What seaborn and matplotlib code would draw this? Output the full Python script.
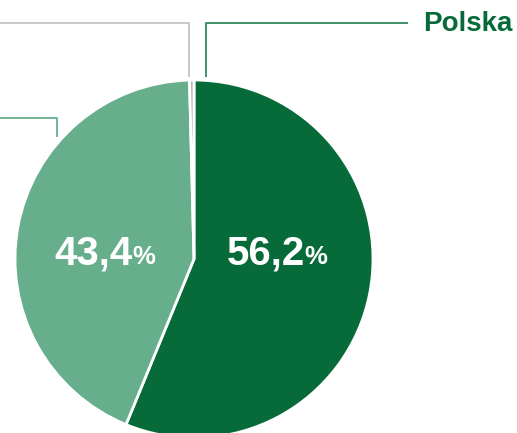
import matplotlib
matplotlib.use("Agg")
import matplotlib.pyplot as plt
import seaborn as sns

# data
categories = ["Polska", "Pozostałe", "Inne"]
shares = [56.2, 43.4, 0.4]
labels = ["56,2", "43,4", ""]
colors = ["#066b38", "#67ae8d", "#b4b4b4"]

sns.set_theme(style="white")
plt.rcParams["font.family"] = ["Liberation Sans", "DejaVu Sans"]

W, H = 517, 433
fig = plt.figure(figsize=(W / 100, H / 100), dpi=100)
ax = fig.add_axes([0, 0, 1, 1])

cx, cy, r = 194, H - 259, 179
wedges, _ = ax.pie(shares, colors=colors, startangle=90, counterclock=False,
                   center=(cx, cy), radius=r, frame=False,
                   wedgeprops=dict(edgecolor="white", linewidth=2))
ax.set_xlim(0, W)
ax.set_ylim(0, H)
ax.set_aspect("equal")
ax.axis("off")

def y(p):
    return H - p

# leader lines (layout)
ax.plot([189, 189, 0], [y(77), y(23), y(23)], color="#c3c3c3", lw=1.3, solid_capstyle="butt")
ax.plot([206, 206, 408], [y(77), y(23), y(23)], color="#2e8a5a", lw=1.3, solid_capstyle="butt")
ax.plot([57, 57, 0], [y(137), y(118), y(118)], color="#67ae8d", lw=1.3, solid_capstyle="butt")

ax.text(423, y(31), categories[0], color=colors[0], fontsize=20, fontweight="bold",
        ha="left", va="baseline")

# percent labels
for lab, xr in zip(labels[:2], [305, 133]):
    ax.text(xr, y(264.5), lab, color="white", fontsize=29, fontweight="bold",
            ha="right", va="baseline")
    ax.text(xr - 1, y(264.5), "%", color="white", fontsize=18.5, fontweight="bold",
            ha="left", va="baseline")

fig.savefig("out.png", dpi=100)
